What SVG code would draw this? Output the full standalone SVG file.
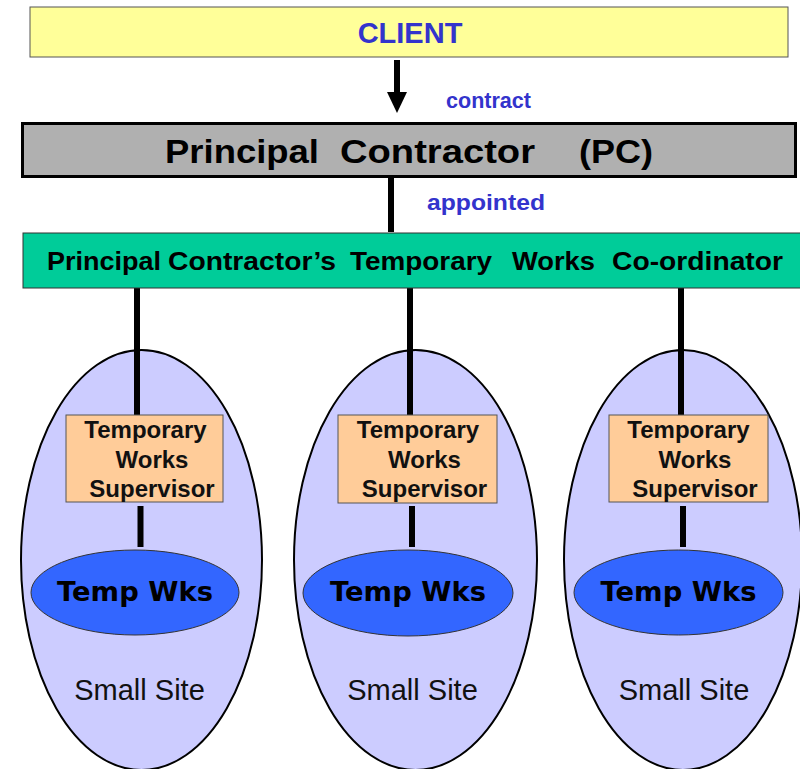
<svg xmlns="http://www.w3.org/2000/svg" width="800" height="769" viewBox="0 0 800 769">
  <style>
    .b { font-family: "Liberation Sans", Arial, sans-serif; font-weight: bold; }
    .blue { fill: #3333CC; }
    .conn { stroke: #000; stroke-width: 6; fill: none; }
    .site { fill: #CCCCFF; stroke: #000; stroke-width: 2; }
    .tws { fill: #FFCC99; stroke: #555; stroke-width: 1; }
    .tws-t { font-family: "Liberation Sans", Arial, sans-serif; font-weight: bold; font-size: 24px; fill: #111; text-anchor: middle; }
    .tw { fill: #3366FF; stroke: #333; stroke-width: 1; }
    .tw-t { font-family: "DejaVu Sans", sans-serif; font-weight: bold; font-size: 26px; fill: #000; text-anchor: middle; }
    .ss { font-family: "Liberation Sans", Arial, sans-serif; font-size: 29px; fill: #111; text-anchor: middle; }
  </style>
  <defs>
    <!-- solid triangular arrowhead, drawn along the line direction -->
    <marker id="head" viewBox="0 0 21 20" refX="0" refY="10" markerWidth="21" markerHeight="20" markerUnits="userSpaceOnUse" orient="auto">
      <polygon points="0,0 21,10 0,20" fill="#000"/>
    </marker>
  </defs>

  <!-- site ellipses (background) -->
  <g id="site-1"><ellipse class="site" cx="141.5" cy="560" rx="120.5" ry="210"/></g>
  <g id="site-2"><ellipse class="site" cx="415.5" cy="560" rx="121.5" ry="210"/></g>
  <g id="site-3"><ellipse class="site" cx="683" cy="560" rx="119" ry="210"/></g>

  <!-- connectors -->
  <g id="connectors">
    <line class="conn" x1="397" y1="60" x2="397" y2="92" marker-end="url(#head)"/>
    <line class="conn" x1="391" y1="178" x2="391" y2="232" stroke-width="5"/>
    <line class="conn" x1="137" y1="288" x2="137" y2="416"/>
    <line class="conn" x1="410" y1="288" x2="410" y2="416"/>
    <line class="conn" x1="681" y1="288" x2="681" y2="416"/>
    <line class="conn" x1="140.5" y1="506" x2="140.5" y2="547" stroke-width="5"/>
    <line class="conn" x1="412" y1="506" x2="412" y2="547" stroke-width="5"/>
    <line class="conn" x1="683" y1="506" x2="683" y2="547" stroke-width="5"/>
    <text class="b blue" x="446" y="108" font-size="22" textLength="85" lengthAdjust="spacingAndGlyphs">contract</text>
    <text class="b blue" x="427" y="210" font-size="22" textLength="118" lengthAdjust="spacingAndGlyphs">appointed</text>
  </g>

  <!-- client -->
  <g id="client">
    <rect x="30" y="7" width="758" height="50" fill="#FFFF99" stroke="#555" stroke-width="1"/>
    <text class="b blue" x="410" y="43" font-size="29" text-anchor="middle">CLIENT</text>
  </g>

  <!-- principal contractor -->
  <g id="principal-contractor">
    <rect x="22.5" y="123.5" width="773" height="53" fill="#B0B0B0" stroke="#000" stroke-width="3"/>
    <g class="b" font-size="34" fill="#000">
      <text x="165" y="163" textLength="154" lengthAdjust="spacingAndGlyphs">Principal</text>
      <text x="340" y="163" textLength="195" lengthAdjust="spacingAndGlyphs">Contractor</text>
      <text x="579" y="163" textLength="74" lengthAdjust="spacingAndGlyphs">(PC)</text>
    </g>
  </g>

  <!-- temporary works co-ordinator -->
  <g id="coordinator">
    <rect x="23" y="233" width="782" height="55" fill="#00CC99" stroke="#333" stroke-width="1"/>
    <g class="b" font-size="26" fill="#000">
      <text x="47" y="270" textLength="114" lengthAdjust="spacingAndGlyphs">Principal</text>
      <text x="168" y="270" textLength="168" lengthAdjust="spacingAndGlyphs">Contractor’s</text>
      <text x="350" y="270" textLength="142" lengthAdjust="spacingAndGlyphs">Temporary</text>
      <text x="512" y="270" textLength="83" lengthAdjust="spacingAndGlyphs">Works</text>
      <text x="612" y="270" textLength="171" lengthAdjust="spacingAndGlyphs">Co-ordinator</text>
    </g>
  </g>

  <!-- supervisors -->
  <g id="supervisor-1">
    <rect class="tws" x="66" y="415" width="157" height="87"/>
    <text class="tws-t" x="145.5" y="438">Temporary</text>
    <text class="tws-t" x="152" y="468">Works</text>
    <text class="tws-t" x="152" y="497">Supervisor</text>
  </g>
  <g id="supervisor-2">
    <rect class="tws" x="338" y="415" width="159" height="88"/>
    <text class="tws-t" x="418" y="438">Temporary</text>
    <text class="tws-t" x="424.5" y="468">Works</text>
    <text class="tws-t" x="424.5" y="497">Supervisor</text>
  </g>
  <g id="supervisor-3">
    <rect class="tws" x="609" y="415" width="159" height="87"/>
    <text class="tws-t" x="688.5" y="438">Temporary</text>
    <text class="tws-t" x="695" y="468">Works</text>
    <text class="tws-t" x="695" y="497">Supervisor</text>
  </g>

  <!-- temporary works -->
  <g id="temp-works-1">
    <ellipse class="tw" cx="135" cy="592.5" rx="104" ry="42.5"/>
    <text class="tw-t" x="135" y="601" textLength="156" lengthAdjust="spacingAndGlyphs">Temp Wks</text>
  </g>
  <g id="temp-works-2">
    <ellipse class="tw" cx="408" cy="593" rx="105" ry="43"/>
    <text class="tw-t" x="408" y="601" textLength="156" lengthAdjust="spacingAndGlyphs">Temp Wks</text>
  </g>
  <g id="temp-works-3">
    <ellipse class="tw" cx="678.5" cy="592.5" rx="104.5" ry="42.5"/>
    <text class="tw-t" x="678.5" y="601" textLength="156" lengthAdjust="spacingAndGlyphs">Temp Wks</text>
  </g>

  <!-- site labels -->
  <g id="site-label-1"><text class="ss" x="139.5" y="700">Small Site</text></g>
  <g id="site-label-2"><text class="ss" x="412.5" y="700">Small Site</text></g>
  <g id="site-label-3"><text class="ss" x="684" y="700">Small Site</text></g>
</svg>
